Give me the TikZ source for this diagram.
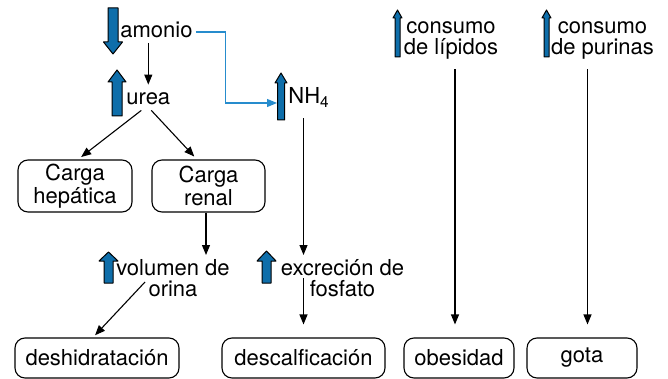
\documentclass[tikz,border=0pt]{standalone}
\usepackage{fontspec}
\setmainfont{TeX Gyre Heros}
\usepackage{tikz}
\usetikzlibrary{arrows.meta}

\definecolor{arrowblue}{RGB}{14,110,170}
\definecolor{lineblue}{RGB}{38,140,205}

% block arrow: x, y of the tail, y of the head base, y of the tip, half shaft, half head
\newcommand{\blkarrow}[6]{%
  \filldraw[blockarr] (#1-#5,#2) -- (#1-#5,#3) -- (#1-#6,#3) -- (#1,#4)
    -- (#1+#6,#3) -- (#1+#5,#3) -- (#1+#5,#2) -- cycle;}

\tikzset{
  every node/.style={font=\fontsize{11}{10.4}\selectfont},
  txt/.style={inner sep=0pt, text height=8pt, text depth=2.5pt},
  twoline/.style={inner sep=0pt, align=center},
  box/.style={draw, rounded corners=5pt, align=center, inner sep=0pt, line width=0.55pt},
  conn/.style={-{Triangle[length=5pt,width=4pt]}, line width=0.55pt},
  blockarr/.style={fill=arrowblue, draw=black, line width=0.5pt, join=round}
}

\begin{document}
\begin{tikzpicture}[x=0.5pt, y=-0.5pt]
  \useasboundingbox (0,0) rectangle (668,379);

  % block arrows
  \blkarrow{113}{8}{42}{54}{5}{9.5}
  \blkarrow{117}{116}{82}{70}{5}{9}
  \blkarrow{281}{120}{83}{73}{3.5}{6}
  \blkarrow{108.5}{283}{261}{252}{4.5}{9.5}
  \blkarrow{266.5}{283}{261}{251}{4.5}{9.5}
  \blkarrow{397.5}{57}{18}{10}{2.5}{4.5}
  \blkarrow{546.5}{57}{18}{10}{2.5}{4.5}

  % texts
  \node[txt, anchor=base west] (amonio) at (120,37.5) {amonio};
  \node[txt, anchor=base west] (urea) at (126,105) {urea};
  \node[txt, anchor=base west] (nh4) at (288,104) {NH\textsubscript{4}};
  \node[twoline, anchor=north] (vol) at (173,259) {volumen de\\orina};
  \node[twoline, anchor=north] (exc) at (342.5,259) {excreción de\\fosfato};
  \node[twoline, anchor=north] (lip) at (451,21) {consumo\\de lípidos};
  \node[twoline, anchor=north] (pur) at (602.5,21) {consumo\\de purinas};

  % boxes
  \node[box, minimum width=57pt, minimum height=26pt] (hep) at (75,186) {Carga\\hepática};
  \node[box, minimum width=56.5pt, minimum height=26pt] (renal) at (208.5,186) {Carga\\renal};
  \node[box, minimum width=82pt, minimum height=20pt] (desh) at (97,358) {deshidratación};
  \node[box, minimum width=81.5pt, minimum height=20pt] (desc) at (303.5,358) {descalficación};
  \node[box, minimum width=55pt, minimum height=20pt] (obes) at (459,358) {obesidad};
  \node[box, minimum width=55pt, minimum height=20pt] (gota) at (582,358) {gota};

  \coordinate (rcol) at ([xshift=-1.25pt]renal.south);
  \coordinate (ocol) at ([xshift=-2pt]obes.north);
  \coordinate (gcol) at ([xshift=2.75pt]gota.north);

  % connectors
  \draw[conn, shorten >=2pt] (amonio.south -| urea.north) -- (urea.north);
  \draw[conn, lineblue, shorten <=1.5pt, shorten >=5.5pt]
    (amonio.east) -- ++(33,0) |- ([yshift=-2.25pt]nh4.west);
  \draw[conn, shorten >=2pt] ([xshift=-3.5pt]urea.south) -- ([xshift=1.5pt]hep.north);
  \draw[conn, shorten >=2pt] ([xshift=1.5pt]urea.south) -- ([xshift=-5.75pt]renal.north);
  \draw[conn, shorten >=2pt] (rcol) -- (rcol |- vol.north);
  \draw[conn, shorten >=1.5pt] ([xshift=-14pt,yshift=-11.5pt]vol.north) -- ([xshift=-2pt]desh.north);
  \draw[conn, shorten <=4.5pt, shorten >=2pt] (desc.north |- nh4.south) -- (desc.north |- exc.north);
  \draw[conn, shorten >=6.5pt] (desc.north |- exc.center) -- (desc.north);
  \draw[conn, shorten <=5pt, shorten >=6.5pt] (ocol |- lip.south) -- (ocol);
  \draw[conn, shorten <=5pt, shorten >=6.5pt] (gcol |- pur.south) -- (gcol);
\end{tikzpicture}
\end{document}
